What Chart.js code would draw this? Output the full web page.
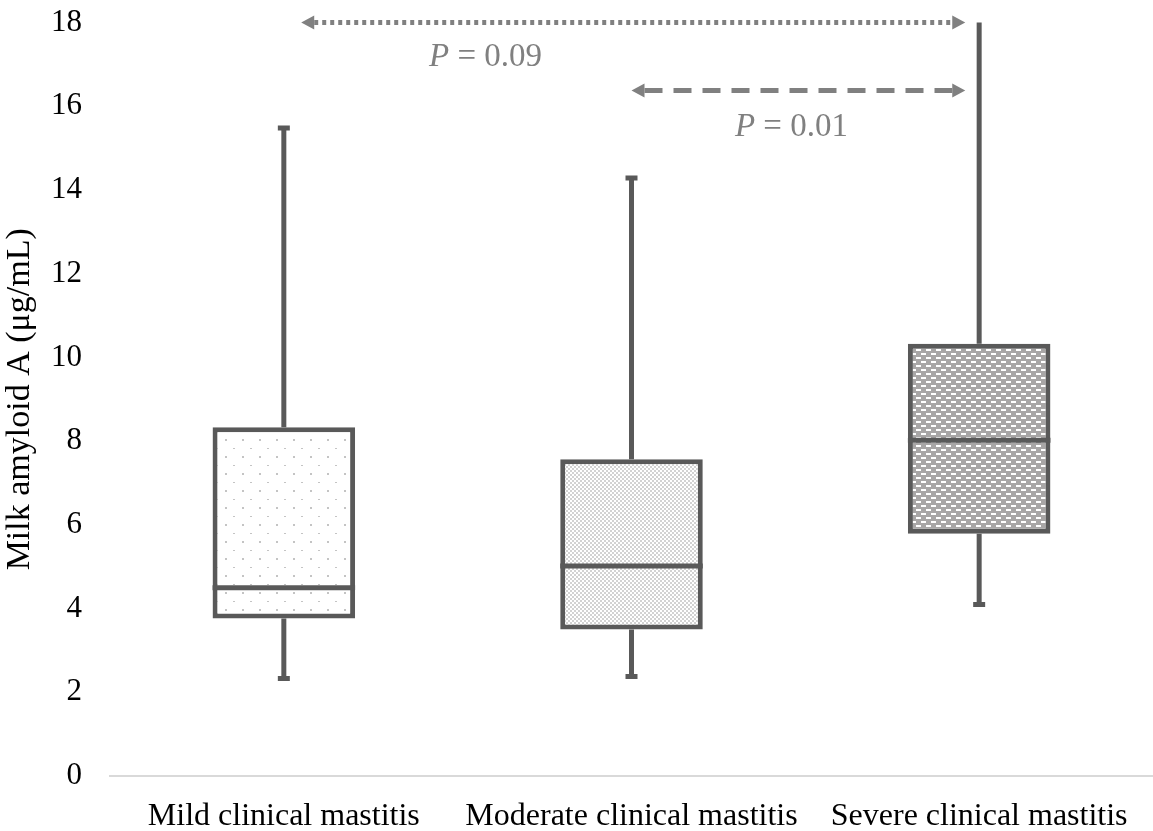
<!DOCTYPE html>
<html>
<head>
<meta charset="utf-8">
<script src="https://cdn.jsdelivr.net/npm/chart.js@4"></script>
<style>
    html, body { margin: 0; padding: 0; background: #fff; }
    #wrap { width: 1153px; height: 831px; position: relative; overflow: hidden; }
    #inner { position: absolute; left: 0; top: -24px; width: 1153px; height: 855px; }
</style>
</head>
<body>
<div id="wrap"><div id="inner"><canvas id="boxChart"></canvas></div></div>
<script>
// Box plot data (μg/mL)
const categories = ['Mild clinical mastitis', 'Moderate clinical mastitis', 'Severe clinical mastitis'];
const whiskerLow = [2.33, 2.38, 4.1];
const quartile1 = [3.76, 3.5, 5.79];
const medians = [4.5, 5.02, 8.02];
const quartile3 = [8.33, 7.57, 10.33];
const whiskerHigh = [15.48, 14.29, 19];

// Pairwise comparisons
const compLabels = ['0.09', '0.01'];
const compFrom = [0.05, 1.0];
const compTo = [1.96, 1.96];
const compY = [18, 16.38];
const compTextX = [0.58, 1.46];
const compTextY = [17.17, 15.5];
const compDash = [[4, 4], [18, 11]];

const FONT = "'Liberation Serif', 'Times New Roman', serif";
const LINE = '#595959';
const ARROW = '#808080';

/**
 * Build fill patterns for the three boxes
 */
function makePattern(kind) {
    const c = document.createElement('canvas');
    const g = c.getContext('2d');
    if (kind === 'dots') {
        c.width = 17; c.height = 17;
        g.fillStyle = '#fff';
        g.fillRect(0, 0, 17, 17);
        g.fillStyle = '#c4c4c4';
        g.fillRect(4, 4, 2, 2);
        g.fillRect(12, 13, 2, 1);
    } else if (kind === 'checker') {
        c.width = 4; c.height = 4;
        g.fillStyle = '#fff';
        g.fillRect(0, 0, 4, 4);
        g.fillStyle = '#d2d2d2';
        g.fillRect(0, 0, 2, 2);
        g.fillRect(2, 2, 2, 2);
    } else {
        c.width = 10; c.height = 8;
        g.fillStyle = '#a8a6a6';
        g.fillRect(0, 0, 10, 8);
        g.fillStyle = '#fff';
        g.fillRect(1, 1, 5, 2);
        g.fillRect(6, 5, 5, 2);
        g.fillRect(0, 5, 1, 2);
    }
    return g.createPattern(c, 'repeat');
}

/**
 * Whiskers, medians and comparison arrows
 */
const boxExtras = {
    id: 'boxExtras',
    afterDatasetsDraw(chart) {
        const ctx = chart.ctx;
        const x = chart.scales.x;
        const y = chart.scales.y;
        const meta = chart.getDatasetMeta(0);
        const area = chart.chartArea;

        ctx.save();
        ctx.beginPath();
        ctx.rect(area.left, area.top, area.right - area.left, area.bottom - area.top);
        ctx.clip();
        ctx.strokeStyle = LINE;
        ctx.lineWidth = 5;
        categories.forEach((cat, i) => {
            const cx = x.getPixelForValue(i);
            const half = meta.data[i].width / 2;
            // whiskers
            ctx.beginPath();
            ctx.moveTo(cx, y.getPixelForValue(quartile3[i]));
            ctx.lineTo(cx, y.getPixelForValue(whiskerHigh[i]));
            ctx.moveTo(cx, y.getPixelForValue(quartile1[i]));
            ctx.lineTo(cx, y.getPixelForValue(whiskerLow[i]));
            ctx.stroke();
            // caps
            ctx.beginPath();
            ctx.moveTo(cx - 6, y.getPixelForValue(whiskerHigh[i]));
            ctx.lineTo(cx + 6, y.getPixelForValue(whiskerHigh[i]));
            ctx.moveTo(cx - 6, y.getPixelForValue(whiskerLow[i]));
            ctx.lineTo(cx + 6, y.getPixelForValue(whiskerLow[i]));
            ctx.stroke();
            // median
            ctx.beginPath();
            ctx.moveTo(cx - half, y.getPixelForValue(medians[i]));
            ctx.lineTo(cx + half, y.getPixelForValue(medians[i]));
            ctx.stroke();
        });
        ctx.restore();

        ctx.save();
        ctx.strokeStyle = ARROW;
        ctx.fillStyle = ARROW;
        compLabels.forEach((lab, i) => {
            const x0 = x.getPixelForValue(compFrom[i]);
            const x1 = x.getPixelForValue(compTo[i]);
            const yy = y.getPixelForValue(compY[i]);
            const head = 13;
            ctx.lineWidth = 5;
            ctx.setLineDash(compDash[i]);
            ctx.beginPath();
            ctx.moveTo(x0 + head, yy);
            ctx.lineTo(x1 - head, yy);
            ctx.stroke();
            ctx.setLineDash([]);
            ctx.beginPath();
            ctx.moveTo(x0, yy);
            ctx.lineTo(x0 + head, yy - 7);
            ctx.lineTo(x0 + head, yy + 7);
            ctx.closePath();
            ctx.moveTo(x1, yy);
            ctx.lineTo(x1 - head, yy - 7);
            ctx.lineTo(x1 - head, yy + 7);
            ctx.closePath();
            ctx.fill();

            // "P = 0.xx" label
            const tx = x.getPixelForValue(compTextX[i]);
            const ty = y.getPixelForValue(compTextY[i]);
            ctx.textBaseline = 'middle';
            ctx.font = `italic 33px ${FONT}`;
            const pW = ctx.measureText('P').width;
            ctx.font = `33px ${FONT}`;
            const rest = ' = ' + lab;
            const rW = ctx.measureText(rest).width;
            const start = tx - (pW + rW) / 2;
            ctx.font = `italic 33px ${FONT}`;
            ctx.textAlign = 'left';
            ctx.fillText('P', start, ty);
            ctx.font = `33px ${FONT}`;
            ctx.fillText(rest, start + pW, ty);
        });
        ctx.restore();
    }
};

/**
 * Render box plot chart
 */
function renderBoxChart() {
    const ctx = document.getElementById('boxChart');
    const fills = [makePattern('dots'), makePattern('checker'), makePattern('dashes')];

    new Chart(ctx, {
        type: 'bar',
        data: {
            labels: categories,
            datasets: [{
                data: categories.map((c, i) => [quartile1[i], quartile3[i]]),
                backgroundColor: fills,
                borderColor: LINE,
                borderWidth: 5,
                borderSkipped: false,
                barPercentage: 0.41,
                categoryPercentage: 1
            }]
        },
        options: {
            responsive: true,
            maintainAspectRatio: false,
            animation: false,
            layout: { padding: { top: 20, right: 0, left: 0, bottom: 0 } },
            plugins: {
                legend: { display: false },
                tooltip: { enabled: false }
            },
            scales: {
                x: {
                    offset: true,
                    grid: { display: false, drawTicks: false },
                    border: { display: true, color: '#d9d9d9', width: 2 },
                    ticks: {
                        color: '#000',
                        padding: 21,
                        font: { family: FONT, size: 32 },
                        maxRotation: 0
                    },
                    afterFit: scale => { scale.height = 55; }
                },
                y: {
                    min: 0,
                    max: 18,
                    grid: { display: false, drawTicks: false },
                    border: { display: false },
                    ticks: {
                        stepSize: 2,
                        color: '#000',
                        padding: 28,
                        font: { family: FONT, size: 31 }
                    },
                    title: {
                        display: true,
                        text: 'Milk amyloid A (μg/mL)',
                        color: '#000',
                        padding: { top: 0, bottom: 0 },
                        font: { family: FONT, size: 34 }
                    },
                    afterFit: scale => { scale.width = 110; }
                }
            }
        },
        plugins: [boxExtras]
    });
}

renderBoxChart();
</script>
</body>
</html>
